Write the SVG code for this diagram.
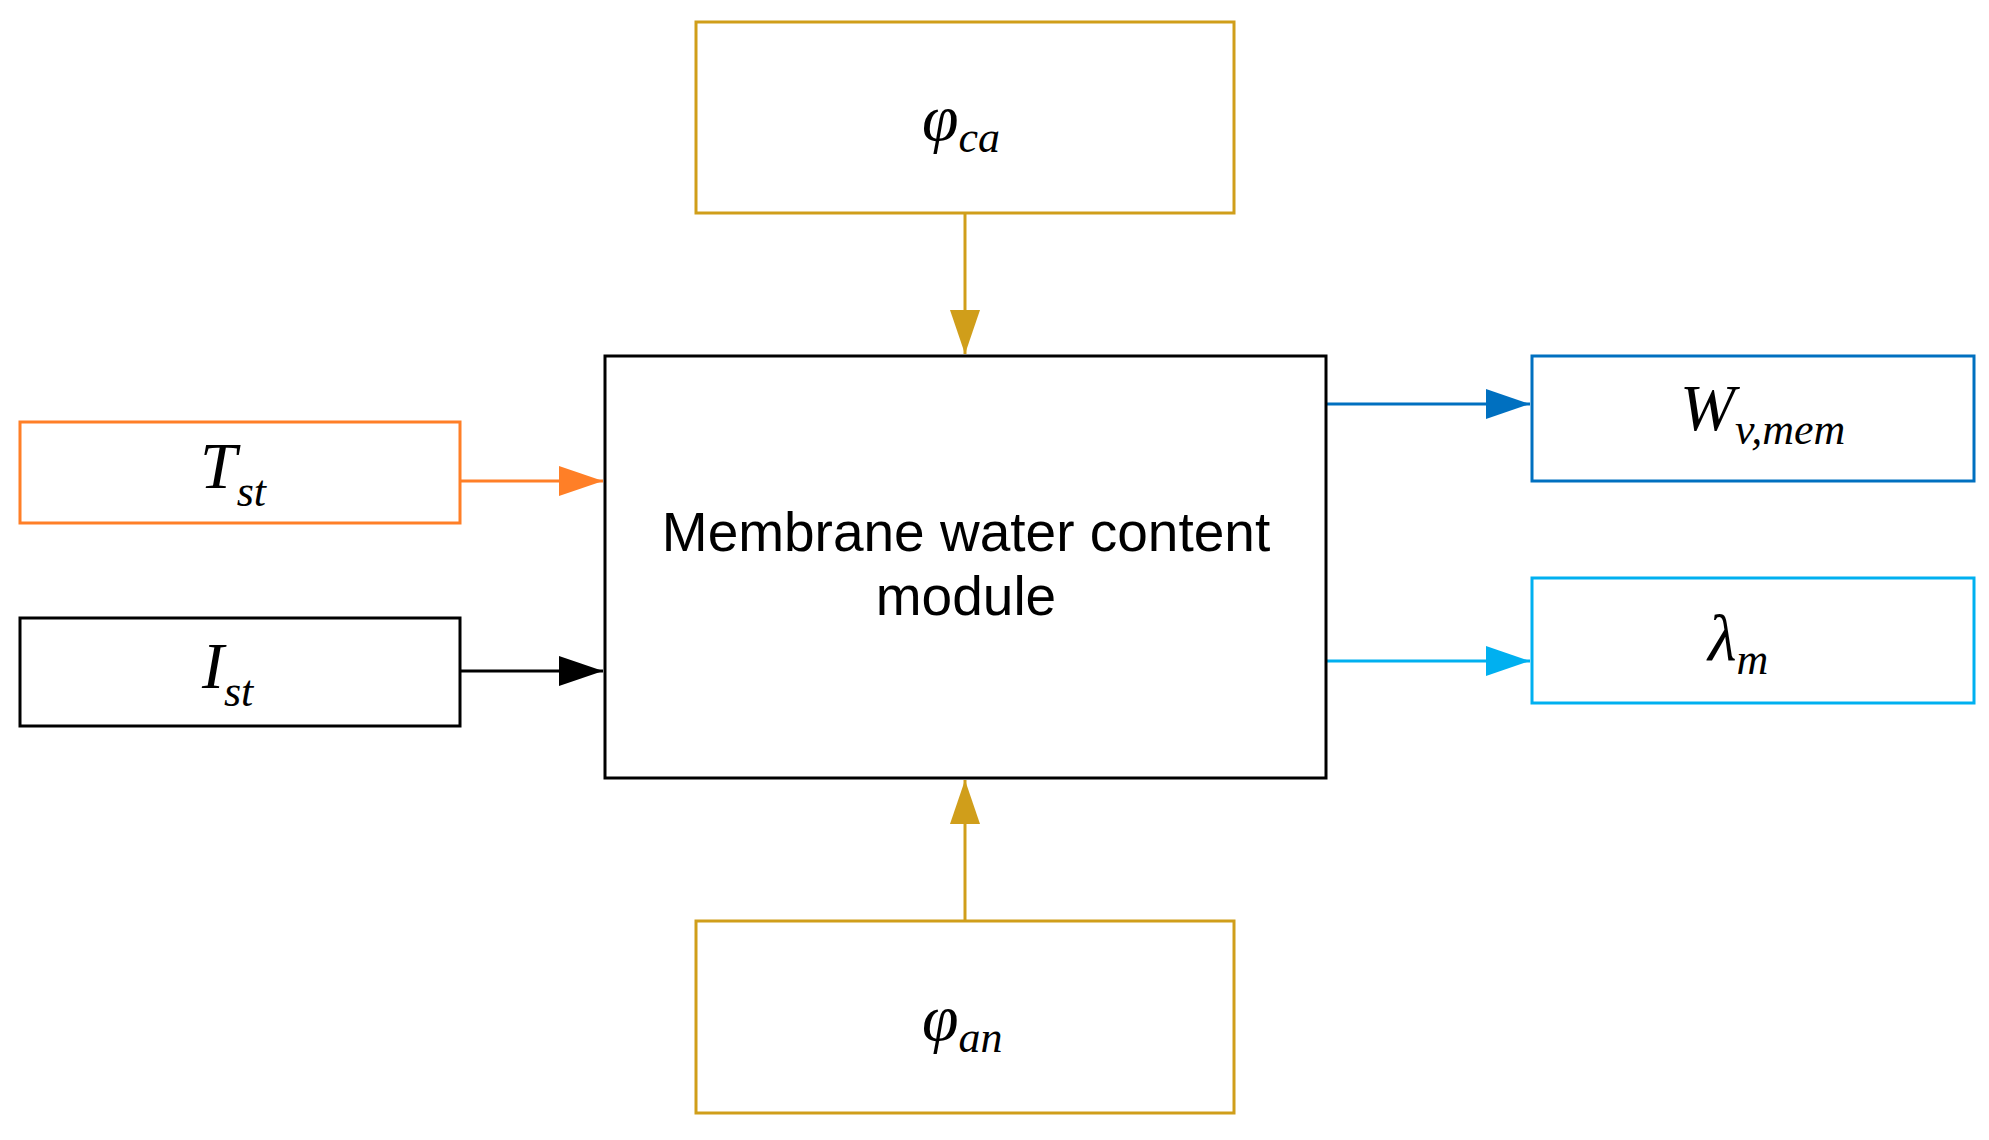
<svg xmlns="http://www.w3.org/2000/svg" width="1989" height="1140" viewBox="0 0 1989 1140">
<style>
.b{fill:#fff;stroke-width:3}
.m{font-family:"Liberation Serif",serif;font-style:italic;font-size:66px}
.s{font-size:44px}
.t{font-family:"Liberation Sans",sans-serif;font-size:55px;text-anchor:middle}
</style>
<defs>
<marker id="ao" viewBox="-44 -22 44 44" refX="0" refY="0" markerWidth="44" markerHeight="44" markerUnits="userSpaceOnUse" orient="auto"><path d="M-44,-15 L0,0 L-44,15z" fill="#ff7f27"/></marker>
<marker id="ak" viewBox="-44 -22 44 44" refX="0" refY="0" markerWidth="44" markerHeight="44" markerUnits="userSpaceOnUse" orient="auto"><path d="M-44,-15 L0,0 L-44,15z" fill="#000"/></marker>
<marker id="ab" viewBox="-44 -22 44 44" refX="0" refY="0" markerWidth="44" markerHeight="44" markerUnits="userSpaceOnUse" orient="auto"><path d="M-44,-15 L0,0 L-44,15z" fill="#0070c0"/></marker>
<marker id="ac" viewBox="-44 -22 44 44" refX="0" refY="0" markerWidth="44" markerHeight="44" markerUnits="userSpaceOnUse" orient="auto"><path d="M-44,-15 L0,0 L-44,15z" fill="#00b0f0"/></marker>
<marker id="ay" viewBox="-44 -22 44 44" refX="0" refY="0" markerWidth="44" markerHeight="44" markerUnits="userSpaceOnUse" orient="auto"><path d="M-44,-15 L0,0 L-44,15z" fill="#d09e1a"/></marker>
</defs>
<rect width="1989" height="1140" fill="#fff"/>
<g id="connectors" stroke-width="3" fill="none">
<line x1="965" y1="213" x2="965" y2="354" stroke="#d09e1a" marker-end="url(#ay)"/>
<line x1="965" y1="921" x2="965" y2="780" stroke="#d09e1a" marker-end="url(#ay)"/>
<line x1="460" y1="481" x2="603" y2="481" stroke="#ff7f27" marker-end="url(#ao)"/>
<line x1="460" y1="671" x2="603" y2="671" stroke="#000" marker-end="url(#ak)"/>
<line x1="1326" y1="404" x2="1530" y2="404" stroke="#0070c0" marker-end="url(#ab)"/>
<line x1="1326" y1="661" x2="1530" y2="661" stroke="#00b0f0" marker-end="url(#ac)"/>
</g>
<g id="phi_ca"><rect class="b" x="696" y="22" width="538" height="191" stroke="#d09e1a"/><text class="m" x="922" y="140">φ<tspan class="s" dy="12">ca</tspan></text></g>
<g id="module"><rect class="b" x="605" y="356" width="721" height="422" stroke="#000"/><text class="t" x="966" y="551">Membrane water content</text><text class="t" x="966" y="615">module</text></g>
<g id="T_st"><rect class="b" x="20" y="422" width="440" height="101" stroke="#ff7f27"/><text class="m" x="200" y="488">T<tspan class="s" dy="18">st</tspan></text></g>
<g id="I_st"><rect class="b" x="20" y="618" width="440" height="108" stroke="#000"/><text class="m" x="202" y="688">I<tspan class="s" dy="18">st</tspan></text></g>
<g id="W_vmem"><rect class="b" x="1532" y="356" width="442" height="125" stroke="#0070c0"/><text class="m" x="1680" y="430">W<tspan class="s" dy="14">v,mem</tspan></text></g>
<g id="lambda_m"><rect class="b" x="1532" y="578" width="442" height="125" stroke="#00b0f0"/><text class="m" x="1708" y="660">λ<tspan class="s" dy="14">m</tspan></text></g>
<g id="phi_an"><rect class="b" x="696" y="921" width="538" height="192" stroke="#d09e1a"/><text class="m" x="922" y="1040">φ<tspan class="s" dy="12">an</tspan></text></g>
</svg>
